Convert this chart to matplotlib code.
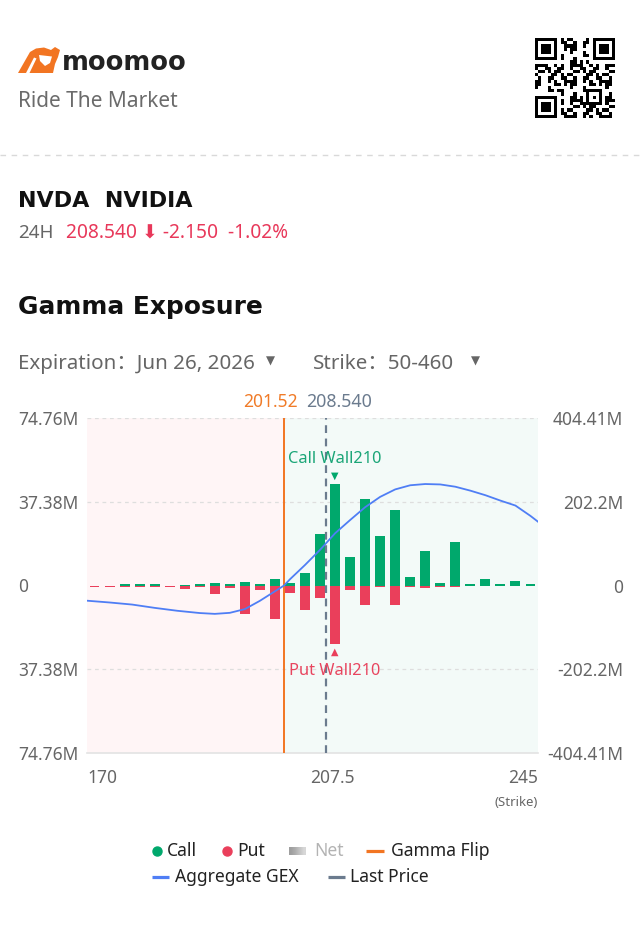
import numpy as np
import matplotlib.pyplot as plt
from matplotlib.patches import Polygon

plt.rcParams['font.family'] = ['Noto Sans', 'DejaVu Sans', 'Noto Sans CJK SC']
BOLD = ['DejaVu Sans']

# --- data (gamma in millions) ---
strikes = [170, 172.5, 175, 177.5, 180, 182.5, 185, 187.5, 190, 192.5,
           195, 197.5, 200, 202.5, 205, 207.5, 210, 212.5, 215, 217.5,
           220, 222.5, 225, 227.5, 230, 232.5, 235, 237.5, 240, 242.5]
call_gex = [0, 0, 0.7, 0.7, 0.7, 0, 0.3, 0.7, 0.9, 0.5,
            1.6, 0.5, 2.8, 0.9, 5.7, 23.2, 45.2, 12.8, 38.5, 22.0,
            33.6, 3.7, 15.2, 0.9, 19.6, 0.6, 3.0, 0.6, 2.2, 0.6]
put_gex = [-0.7, -0.7, -0.7, -0.7, -0.7, -0.7, -1.5, -0.7, -3.6, -1.3,
           -12.5, -1.8, -14.9, -3.3, -10.9, -5.7, -25.9, -1.8, -8.6, -0.7,
           -8.5, -0.7, -1.2, -0.7, -0.6, 0, 0, 0, 0, 0]

# aggregate GEX curve (right axis, millions)
agg_strikes = [168.75, 172.5, 176.25, 180, 183.75, 187.5, 190, 192.5, 195, 197.5,
               200, 201.52, 202.5, 205, 207.5, 210, 212.5, 215, 217.5, 220,
               222.5, 225, 227.5, 230, 232.5, 235, 237.5, 240, 242.5, 243.75]
agg_gex = [-36.7, -41, -46, -54, -61, -66.5, -68.5, -66, -57, -37,
           -14, 0, 15, 49.5, 86, 126, 158, 189, 214, 232,
           242, 245, 244, 238.5, 229, 218, 205, 193, 168, 154]

gamma_flip = 201.52
last_price = 208.540
call_wall = 210
put_wall = 210

left_ticks = [74.76, 37.38, 0, -37.38, -74.76]
left_labels = ["74.76M", "37.38M", "0", "37.38M", "74.76M"]
right_ticks = [404.41, 202.2, 0, -202.2, -404.41]
right_labels = ["404.41M", "202.2M", "0", "-202.2M", "-404.41M"]

GREEN = '#00a86c'
RED = '#ea3f5b'
ORANGE = '#f27522'
BLUE = '#4f7ef5'
SLATE = '#6b7b8e'
GRAY = '#666666'

W, H = 642, 949
fig = plt.figure(figsize=(W / 100, H / 100), dpi=100)

# overlay in pixel coordinates for the header and legend
bg = fig.add_axes([0, 0, 1, 1])
bg.axis('off')

# logo
bg.add_patch(Polygon([(18, 73), (30, 52), (36, 48.5), (44, 47.5), (51, 50), (55, 47),
                      (60, 50), (58, 57), (55, 64), (53, 73)],
                     closed=True, color=ORANGE, lw=0))
bg.add_patch(Polygon([(39, 55), (52, 56.5), (50, 63), (45, 66), (40, 61)],
                     closed=True, color='white', lw=0))
bg.add_patch(Polygon([(26, 73), (34, 57.5), (36.5, 58.5), (29.5, 73)],
                     closed=True, color='white', lw=0))
bg.text(62, 70, "moomoo", fontsize=18.5, fontweight='bold', family=BOLD,
        color='#222222', va='baseline')
bg.text(18, 107, "Ride The Market", fontsize=15, color='#6b6b6b', va='baseline')

# QR-like block
n = 25
qr = np.zeros((n, n))
for r in range(n):
    for c in range(n):
        qr[r, c] = 1 if ((r * r * 31 + c * c * 17 + r * c * 7 + c * 3) % 11) < 5 else 0
def finder(r0, c0, size=7):
    for r in range(size):
        for c in range(size):
            edge = r in (0, size - 1) or c in (0, size - 1)
            inner = 2 <= r <= size - 3 and 2 <= c <= size - 3
            qr[r0 + r, c0 + c] = 1 if (edge or inner) else 0
for r0, c0 in [(0, 0), (0, n - 7), (n - 7, 0)]:
    for r in range(8):
        for c in range(8):
            rr, cc = r0 + r - (1 if r0 else 0), c0 + c - (1 if c0 else 0)
            if 0 <= rr < n and 0 <= cc < n:
                qr[rr, cc] = 0
    finder(r0, c0)
finder(16, 16, 5)
bg.imshow(1 - qr, cmap='gray', vmin=0, vmax=1, extent=(535, 615, 118, 38),
          interpolation='nearest', aspect='auto')

bg.plot([0, W], [155, 155], color='#d9d9d9', lw=1, ls=(0, (4, 4)))

bg.text(18, 207, "NVDA  NVIDIA", fontsize=16, fontweight='bold', family=BOLD,
        color='#111111', va='baseline')
bg.text(18, 238, "24H", fontsize=13.5, color='#666666', va='baseline')
bg.text(66, 238, "208.540 \u2b07 -2.150  -1.02%", fontsize=13.8, color='#e8385a', va='baseline')
bg.text(18, 314, "Gamma Exposure", fontsize=17.9, fontweight='bold', family=BOLD,
        color='#111111', va='baseline')
bg.text(18, 369, "Expiration\uff1aJun 26, 2026", fontsize=14.8, color='#666666', va='baseline')
bg.text(270, 361, "\u25bc", fontsize=8.5, color='#666666', ha='center', va='center')
bg.text(313, 369, "Strike\uff1a50-460", fontsize=14.8, color='#666666', va='baseline')
bg.text(475, 361, "\u25bc", fontsize=8.5, color='#666666', ha='center', va='center')

# legend (drawn by hand so the two rows line up like the app)
leg_fs = 12.6
bg.plot([157], [851], ls='', marker='o', ms=6.5, color=GREEN)
bg.text(167, 851, "Call", fontsize=leg_fs, color='#222222', va='center')
bg.plot([227], [851], ls='', marker='o', ms=6.5, color=RED)
bg.text(237, 851, "Put", fontsize=leg_fs, color='#222222', va='center')
bg.imshow(np.array([[0.62, 0.68, 0.76, 0.84]]), cmap='gray', vmin=0, vmax=1,
          extent=(289, 306, 855, 847), interpolation='bilinear', aspect='auto')
bg.text(314, 851, "Net", fontsize=leg_fs, color='#b3b3b3', va='center')
bg.plot([366, 384], [851, 851], color=ORANGE, lw=2.3, solid_capstyle='butt')
bg.text(391, 851, "Gamma Flip", fontsize=leg_fs, color='#222222', va='center')
bg.plot([152, 169], [877, 877], color=BLUE, lw=2.3, solid_capstyle='butt')
bg.text(175, 877, "Aggregate GEX", fontsize=leg_fs, color='#222222', va='center')
bg.plot([328, 345], [877, 877], color=SLATE, lw=2.3, solid_capstyle='butt')
bg.text(350, 877, "Last Price", fontsize=leg_fs, color='#222222', va='center')

bg.set_xlim(0, W)
bg.set_ylim(H, 0)

# --- chart ---
left, right, top, bottom = 87, 538, 418, 753
ax = fig.add_axes([left / W, 1 - bottom / H, (right - left) / W, (bottom - top) / H])
xmin, xmax = 168.75, 243.75
ax.set_xlim(xmin, xmax)
ax.set_ylim(-74.76, 74.76)

ax.axvspan(xmin, gamma_flip, color='#fff5f6', lw=0, zorder=0)
ax.axvspan(gamma_flip, xmax, color='#f3faf8', lw=0, zorder=0)

for y in [74.76, 37.38, -37.38]:
    ax.axhline(y, color='#dedede', lw=0.9, ls=(0, (3, 3)), zorder=1)

bar_w = 1.65
ax.bar(strikes, call_gex, width=bar_w, color=GREEN, zorder=3)
ax.bar(strikes, put_gex, width=bar_w, color=RED, zorder=3)

ax.axvline(gamma_flip, color=ORANGE, lw=1.4, zorder=4)
ax.axvline(last_price, color=SLATE, lw=1.6, ls=(0, (3.5, 2.5)), zorder=4)

ax.annotate("201.52", xy=(gamma_flip, 1), xycoords=('data', 'axes fraction'),
            xytext=(-10, 11.5), textcoords='offset points', ha='center', va='center',
            fontsize=12.5, color='#f07b28')
ax.annotate("208.540", xy=(last_price, 1), xycoords=('data', 'axes fraction'),
            xytext=(9.5, 11.5), textcoords='offset points', ha='center', va='center',
            fontsize=12.8, color=SLATE)

cw_val = call_gex[strikes.index(call_wall)]
pw_val = put_gex[strikes.index(put_wall)]
ax.annotate("Call Wall210", xy=(call_wall, cw_val), xytext=(0, 18), textcoords='offset points',
            ha='center', va='center', fontsize=11.8, color='#1aa577', zorder=6)
ax.annotate("\u25bc", xy=(call_wall, cw_val), xytext=(0, 6), textcoords='offset points',
            ha='center', va='center', fontsize=7, color=GREEN, zorder=6)
ax.annotate("Put Wall210", xy=(put_wall, pw_val), xytext=(0, -19.5), textcoords='offset points',
            ha='center', va='center', fontsize=11.8, color='#e8455f', zorder=6)
ax.annotate("\u25b2", xy=(put_wall, pw_val), xytext=(0, -6), textcoords='offset points',
            ha='center', va='center', fontsize=7, color=RED, zorder=6)

for s in ['top', 'left', 'right']:
    ax.spines[s].set_visible(False)
ax.spines['bottom'].set_color('#e3e3e3')
ax.spines['bottom'].set_linewidth(1.2)
ax.set_xticks([])
ax.set_yticks(left_ticks, left_labels)
ax.tick_params(axis='y', length=0, pad=49.7, labelsize=12.5, labelcolor=GRAY)
for lbl in ax.get_yticklabels():
    lbl.set_horizontalalignment('left')

ax2 = ax.twinx()
ax2.set_ylim(-404.41, 404.41)
ax2.plot(agg_strikes, agg_gex, color=BLUE, lw=1.3, zorder=5)
ax2.set_yticks(right_ticks, right_labels)
ax2.tick_params(axis='y', length=0, pad=61.2, labelsize=12.5, labelcolor=GRAY)
for lbl in ax2.get_yticklabels():
    lbl.set_horizontalalignment('right')
for s in ['top', 'left', 'right', 'bottom']:
    ax2.spines[s].set_visible(False)
ax2.set_xlim(xmin, xmax)

# x labels
ax.text(0, -0.075, "170", transform=ax.transAxes, ha='left', va='center', fontsize=12.5, color=GRAY)
ax.text(0.545, -0.075, "207.5", transform=ax.transAxes, ha='center', va='center', fontsize=12.5, color=GRAY)
ax.text(1, -0.075, "245", transform=ax.transAxes, ha='right', va='center', fontsize=12.5, color=GRAY)
ax.text(1, -0.149, "(Strike)", transform=ax.transAxes, ha='right', va='center', fontsize=9.5, color=GRAY)

fig.savefig('out.png', dpi=100)
